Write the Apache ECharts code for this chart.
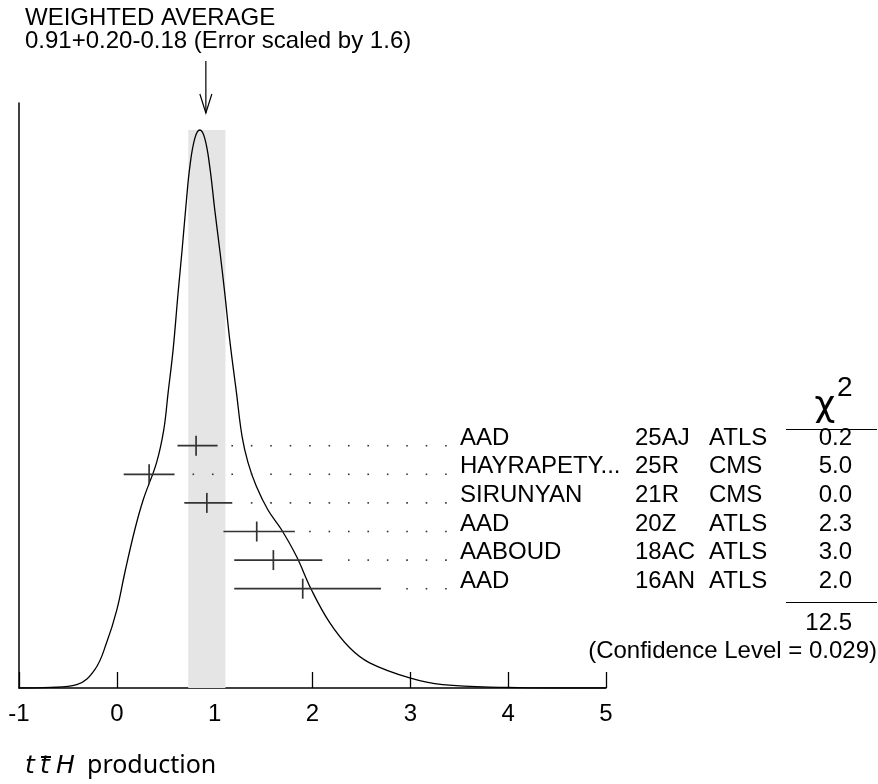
<!DOCTYPE html>
<html><head><meta charset="utf-8">
<script src="https://cdn.jsdelivr.net/npm/echarts@6/dist/echarts.min.js"></script>
<style>html,body{margin:0;padding:0;background:#fff}#c{width:878px;height:784px}</style>
</head><body><div id="c"></div>
<script>
// ---- data ----
const avgValue = 0.91, avgPlus = 0.20, avgMinus = 0.18, errScale = 1.6;
const names = ['AAD', 'HAYRAPETY...', 'SIRUNYAN', 'AAD', 'AABOUD', 'AAD'];
const codes = ['25AJ', '25R', '21R', '20Z', '18AC', '16AN'];
const experiments = ['ATLS', 'CMS', 'CMS', 'ATLS', 'ATLS', 'ATLS'];
const values = [0.81, 0.33, 0.92, 1.43, 1.60, 1.90];
const errPlus = [0.22, 0.26, 0.26, 0.39, 0.50, 0.80];
const errMinus = [0.19, 0.26, 0.23, 0.34, 0.40, 0.70];
const chi2 = ['0.2', '5.0', '0.0', '2.3', '3.0', '2.0'];
const chi2Total = '12.5';
const confidenceLevel = '0.029';
const xTicks = [-1, 0, 1, 2, 3, 4, 5];
// ideogram curve (x, relative height; peak = 1)
const curveX = [-1, -0.68, -0.41, -0.225, -0.105, 0.0, 0.082, 0.184, 0.269, 0.406, 0.48, 0.524, 0.575, 0.626, 0.667, 0.712, 0.746, 0.797, 0.848, 0.899, 0.95, 1.001, 1.052, 1.103, 1.154, 1.223, 1.28, 1.341, 1.427, 1.545, 1.682, 1.836, 1.989, 2.176, 2.38, 2.584, 2.993, 3.33, 3.99, 4.5, 5];
const curveY = [0, 0.001, 0.006, 0.033, 0.081, 0.14, 0.207, 0.284, 0.337, 0.404, 0.463, 0.529, 0.606, 0.708, 0.785, 0.875, 0.934, 0.985, 1.0, 0.985, 0.934, 0.857, 0.785, 0.708, 0.624, 0.529, 0.451, 0.404, 0.361, 0.319, 0.284, 0.236, 0.176, 0.117, 0.072, 0.045, 0.018, 0.006, 0.001, 0, 0];
const peakHeight = 1.0;

// ---- style ----
const FONT = '"Liberation Sans", Arial, Helvetica, sans-serif';
const BAR = '#333';
const dotStart = 0.782, dotStep = 0.1986, dotCount = 14;

const chart = echarts.init(document.getElementById('c'), null, { renderer: 'canvas' });

function txt(text, x, y, size, align, family, style) {
  return {
    type: 'text',
    style: {
      text: text, x: x, y: y,
      font: (style || '') + ' ' + size + 'px ' + (family || FONT),
      fill: '#000',
      align: align || 'left', verticalAlign: 'middle',
      textAlign: align || 'left', textVerticalAlign: 'middle'
    }
  };
}

function renderRow(params, api) {
  const v = api.value(0), lo = api.value(1), hi = api.value(2), r = api.value(3);
  const i = params.dataIndex;
  const c = api.coord([v, r]);
  const pLo = api.coord([lo, r]);
  const pHi = api.coord([hi, r]);
  const y = c[1];
  const ch = [];
  ch.push({ type: 'line', shape: { x1: pLo[0], y1: y, x2: pHi[0], y2: y }, style: { stroke: BAR, lineWidth: 1.7 } });
  ch.push({ type: 'line', shape: { x1: c[0], y1: y - 10, x2: c[0], y2: y + 10 }, style: { stroke: BAR, lineWidth: 1.7 } });
  const d0 = api.coord([dotStart, r])[0];
  const step = api.coord([dotStart + dotStep, r])[0] - d0;
  for (let k = 0; k < dotCount; k++) {
    const dx = d0 + k * step;
    if (dx > pHi[0] + 10) {
      ch.push({ type: 'rect', shape: { x: dx - 0.8, y: y - 0.8, width: 1.6, height: 1.6 }, style: { fill: '#333' } });
    }
  }
  const ty = y - 7.5;
  ch.push(txt(names[i], 460, ty, 24, 'left'));
  ch.push(txt(codes[i], 635, ty, 24, 'left'));
  ch.push(txt(experiments[i], 709, ty, 24, 'left'));
  ch.push(txt(chi2[i], 852, ty, 24, 'right'));
  return { type: 'group', children: ch };
}

function renderBand(params, api) {
  const a = api.coord([api.value(0), 0]);
  const b = api.coord([api.value(1), api.value(2)]);
  return { type: 'rect', shape: { x: a[0], y: b[1], width: b[0] - a[0], height: a[1] - b[1] }, style: { fill: '#e5e5e5' } };
}

function renderArrow(params, api) {
  const x = api.coord([api.value(0), 0])[0];
  return {
    type: 'group', children: [
      { type: 'line', shape: { x1: x, y1: 61, x2: x, y2: 113 }, style: { stroke: '#000', lineWidth: 1.2 } },
      { type: 'polyline', shape: { points: [[x - 6, 94], [x, 113], [x + 6, 94]] }, style: { stroke: '#000', lineWidth: 1.2, fill: null } }
    ]
  };
}

const option = {
  backgroundColor: '#fff',
  animation: false,
  grid: { left: 19, right: 272, top: 103, bottom: 96, containLabel: false },
  xAxis: {
    type: 'value', min: -1, max: 5, interval: 1,
    axisLine: { show: true, onZero: false, lineStyle: { color: '#000', width: 1.5 } },
    axisTick: { show: true, inside: true, length: 16, lineStyle: { color: '#000', width: 1.3 } },
    axisLabel: { color: '#000', fontSize: 24, fontFamily: FONT, margin: 14, showMinLabel: true, showMaxLabel: true,
      formatter: v => xTicks.includes(v) ? String(v) : '' },
    splitLine: { show: false }
  },
  yAxis: [
    { type: 'value', min: 0, max: 1.0484, axisLine: { show: true, onZero: false, lineStyle: { color: '#000', width: 1.5 } },
      axisTick: { show: false }, axisLabel: { show: false }, splitLine: { show: false } },
    { type: 'value', min: -11.983, max: 8.472, inverse: true, show: false }
  ],
  graphic: [
    txt('WEIGHTED AVERAGE', 25, 18.5, 24, 'left'),
    txt(avgValue.toFixed(2) + '+' + avgPlus.toFixed(2) + '-' + avgMinus.toFixed(2) + ' (Error scaled by ' + errScale + ')', 25, 41, 24, 'left'),
    txt('\u03C7', 825, 407, 36, 'center', '"DejaVu Sans", sans-serif'),
    txt('2', 837, 388, 28, 'left'),
    { type: 'line', shape: { x1: 786, y1: 429.5, x2: 877, y2: 429.5 }, style: { stroke: '#000', lineWidth: 1.2 } },
    { type: 'line', shape: { x1: 786, y1: 602.5, x2: 877, y2: 602.5 }, style: { stroke: '#000', lineWidth: 1.2 } },
    txt(chi2Total, 852, 623.5, 24, 'right'),
    txt('(Confidence Level = ' + confidenceLevel + ')', 877, 651, 24, 'right'),
    txt('t', 25, 766, 25, 'left', '"DejaVu Sans", sans-serif', 'italic'),
    txt('t', 40, 766, 25, 'left', '"DejaVu Sans", sans-serif', 'italic'),
    { type: 'line', shape: { x1: 41, y1: 757, x2: 51, y2: 757 }, style: { stroke: '#000', lineWidth: 2 } },
    txt('H', 56, 766, 25, 'left', '"DejaVu Sans", sans-serif', 'italic'),
    txt('production', 87, 766, 25, 'left', '"Noto Sans", sans-serif')
  ],
  series: [
    { type: 'custom', name: 'band', xAxisIndex: 0, yAxisIndex: 0, z: 1, silent: true,
      data: [[avgValue - avgMinus, avgValue + avgPlus, peakHeight]], renderItem: renderBand },
    { type: 'line', name: 'ideogram', xAxisIndex: 0, yAxisIndex: 0, z: 3, silent: true,
      data: curveX.map((x, i) => [x, curveY[i]]), smooth: 0.4, symbol: 'none',
      lineStyle: { color: '#000', width: 1.3 } },
    { type: 'custom', name: 'measurements', xAxisIndex: 0, yAxisIndex: 1, z: 4, silent: true,
      data: values.map((v, i) => [v, v - errMinus[i], v + errPlus[i], i]), renderItem: renderRow },
    { type: 'custom', name: 'average', xAxisIndex: 0, yAxisIndex: 0, z: 4, silent: true,
      data: [[avgValue]], renderItem: renderArrow }
  ]
};
chart.setOption(option);
</script></body></html>
